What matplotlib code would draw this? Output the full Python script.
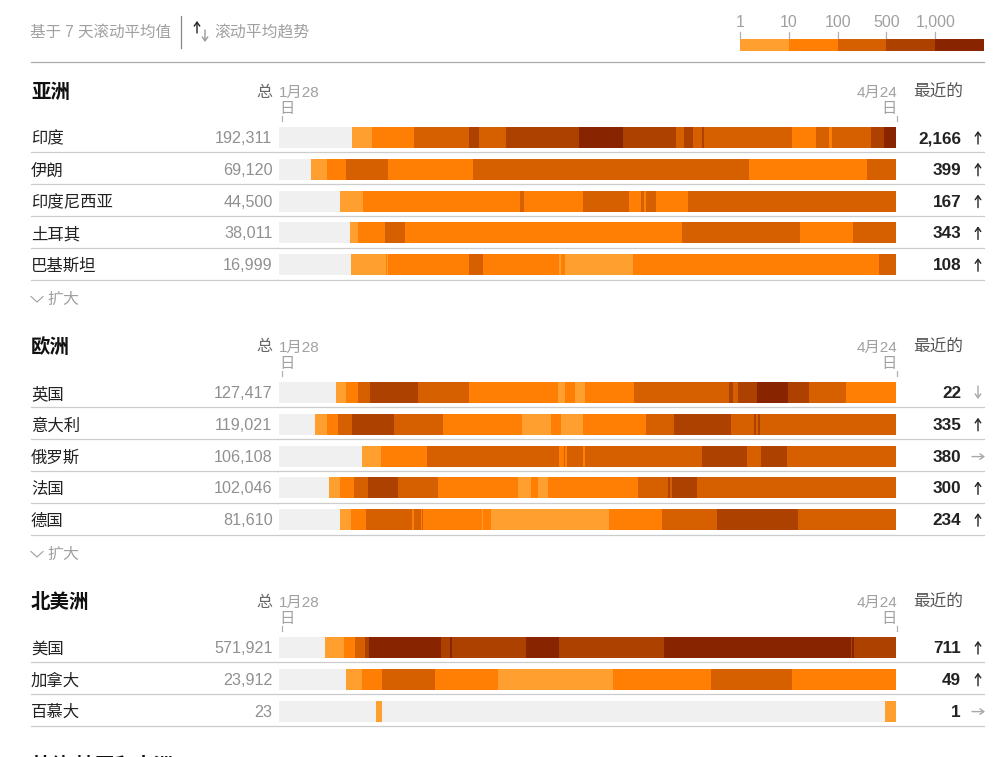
import matplotlib
matplotlib.use('Agg')
import matplotlib.pyplot as plt

plt.rcParams['font.family'] = ['Liberation Sans', 'Noto Sans CJK SC', 'DejaVu Sans']

# bin colours, 0 = no cases
colors = {0: '#f0f0f0', 1: '#ff9f30', 2: '#ff7f05', 3: '#d65f00', 4: '#ad4100', 5: '#882500'}
legend_labels = ['1', '10', '100', '500', '1,000']
legend_levels = [1, 2, 3, 4, 5]

# each country: breaks in days since Jan 28, levels of the segments between them
india_breaks = [10.4, 13.2, 19.3, 27.1, 28.5, 32.4, 42.8, 49.1, 56.6, 57.8, 59.0, 60.3, 60.6, 73.1, 76.6, 78.5, 78.9, 84.4, 86.3, 88]
india_levels = [1, 2, 3, 4, 3, 4, 5, 4, 3, 4, 3, 4, 3, 2, 3, 2, 3, 4, 5]
iran_breaks = [4.6, 6.9, 9.5, 15.6, 27.7, 67.1, 83.9, 88]
iran_levels = [1, 2, 3, 2, 3, 2, 3]
indonesia_breaks = [8.7, 12.0, 34.4, 35.0, 43.4, 49.9, 51.7, 52.1, 52.3, 53.8, 58.3, 88]
indonesia_levels = [1, 2, 3, 2, 3, 2, 3, 2, 3, 2, 3]
turkey_breaks = [10.1, 11.3, 15.1, 18.0, 57.5, 74.3, 81.8, 88]
turkey_levels = [1, 2, 3, 2, 3, 2, 3]
pakistan_breaks = [10.3, 15.3, 15.4, 15.6, 27.1, 29.1, 40.0, 40.2, 40.8, 50.0, 50.1, 50.5, 85.6, 88]
pakistan_levels = [1, 2, 1, 2, 3, 2, 1, 2, 1, 2, 1, 2, 3]

uk_breaks = [8.1, 9.6, 11.3, 13.0, 19.8, 27.1, 39.8, 40.8, 42.2, 43.6, 50.6, 64.2, 64.8, 65.4, 68.2, 72.6, 75.6, 80.9, 88]
uk_levels = [1, 2, 3, 4, 3, 2, 1, 2, 1, 2, 3, 4, 3, 4, 5, 4, 3, 2]
italy_breaks = [5.2, 6.8, 8.4, 10.4, 16.4, 23.4, 34.7, 38.8, 40.2, 43.4, 52.4, 56.3, 64.5, 67.8, 68.0, 68.3, 68.6, 88]
italy_levels = [1, 2, 3, 4, 3, 2, 1, 2, 1, 2, 3, 4, 3, 4, 3, 4, 3]
russia_breaks = [11.8, 14.5, 21.1, 39.9, 40.6, 40.8, 41.1, 43.4, 43.7, 60.4, 66.8, 68.8, 72.5, 88]
russia_levels = [1, 2, 3, 2, 3, 2, 3, 2, 3, 4, 3, 4, 3]
france_breaks = [7.2, 8.7, 10.7, 12.7, 17.0, 22.7, 34.1, 35.9, 36.9, 38.4, 51.2, 55.5, 55.8, 56.0, 59.6, 88]
france_levels = [1, 2, 3, 4, 3, 2, 1, 2, 1, 2, 3, 4, 3, 4, 3]
germany_breaks = [8.7, 10.3, 12.4, 19.0, 19.2, 20.2, 20.4, 20.5, 29.0, 29.1, 30.3, 47.1, 54.6, 62.5, 74.0, 88]
germany_levels = [1, 2, 3, 2, 3, 2, 3, 2, 1, 2, 1, 2, 3, 4, 3]

usa_breaks = [6.6, 9.3, 10.9, 12.2, 12.8, 23.1, 24.4, 24.7, 35.2, 39.9, 54.9, 81.6, 81.7, 82.0, 88]
usa_levels = [1, 2, 3, 4, 5, 4, 5, 4, 5, 4, 5, 4, 5, 4]
canada_breaks = [9.5, 11.8, 14.7, 22.3, 31.2, 47.7, 61.6, 73.2, 88]
canada_levels = [1, 2, 3, 2, 1, 2, 3, 2]
bermuda_breaks = [13.9, 14.7, 86.4, 88]
bermuda_levels = [1, 0, 1]

asia = [('印度', '192,311', '2,166', 'up', india_breaks, india_levels),
        ('伊朗', '69,120', '399', 'up', iran_breaks, iran_levels),
        ('印度尼西亚', '44,500', '167', 'up', indonesia_breaks, indonesia_levels),
        ('土耳其', '38,011', '343', 'up', turkey_breaks, turkey_levels),
        ('巴基斯坦', '16,999', '108', 'up', pakistan_breaks, pakistan_levels)]
europe = [('英国', '127,417', '22', 'down', uk_breaks, uk_levels),
          ('意大利', '119,021', '335', 'up', italy_breaks, italy_levels),
          ('俄罗斯', '106,108', '380', 'flat', russia_breaks, russia_levels),
          ('法国', '102,046', '300', 'up', france_breaks, france_levels),
          ('德国', '81,610', '234', 'up', germany_breaks, germany_levels)]
america = [('美国', '571,921', '711', 'up', usa_breaks, usa_levels),
           ('加拿大', '23,912', '49', 'up', canada_breaks, canada_levels),
           ('百慕大', '23', '1', 'flat', bermuda_breaks, bermuda_levels)]

gray = '#a0a0a0'
dark = '#222222'

fig = plt.figure(figsize=(10, 7.57), dpi=100)
# page axes in pixels for layout, bar axes in days
page = fig.add_axes([0, 0, 1, 1])
page.axis('off')
bars = fig.add_axes([0.279, 0, 0.617, 1])
bars.axis('off')
bars.patch.set_alpha(0)


def arrow(x0, y0, x1, y1, color):
    page.annotate('', xy=(x1, y1), xytext=(x0, y0),
                  arrowprops=dict(arrowstyle='->,head_length=0.28,head_width=0.2', color=color,
                                  lw=1.0, shrinkA=0, shrinkB=0))


def trend_arrow(trend, y):
    if trend == 'up':
        arrow(978, y + 6, 978, y - 7, '#222222')
    elif trend == 'down':
        arrow(978, y - 7, 978, y + 6, '#a8a8a8')
    else:
        arrow(972, y, 985, y, '#a8a8a8')


def draw_block(title, rows, top, expand):
    page.text(31, top + 1.5, title, fontsize=14, fontweight='bold', color='#111111', va='center')
    page.text(272, top + 1, '总', fontsize=11.5, color='#666666', va='center', ha='right')
    page.text(279, top + 2, '1月28', fontsize=11, color=gray, va='center')
    page.text(279, top + 18, '日', fontsize=11, color=gray, va='center')
    page.text(897, top + 2, '4月24', fontsize=11, color=gray, va='center', ha='right')
    page.text(897, top + 18, '日', fontsize=11, color=gray, va='center', ha='right')
    page.text(913, top + 1, '最近的', fontsize=12, color='#555555', va='center')
    page.plot([281.5, 281.5], [top + 25, top + 30], color='#b0b0b0', lw=0.9)
    page.plot([896.5, 896.5], [top + 25, top + 30], color='#b0b0b0', lw=0.9)
    for i, (name, total, latest, trend, breaks, levels) in enumerate(rows):
        y = top + 47 + i * 31.8
        page.text(31, y + 1, name, fontsize=11.8, color=dark, va='center')
        page.text(272.5, y + 0.5, total, fontsize=11.6, color='#909090', va='center', ha='right')
        page.text(961, y + 0.5, latest, fontsize=12.3, fontweight='bold', color=dark, va='center', ha='right')
        trend_arrow(trend, y)
        bars.barh(y - 0.5, 88, height=21, color=colors[0])
        for j, level in enumerate(levels):
            bars.barh(y - 0.5, breaks[j + 1] - breaks[j], left=breaks[j], height=21, color=colors[level])
        page.plot([31, 984], [y + 14.3, y + 14.3], color='#cccccc', lw=0.9)
    if expand:
        y = top + 208
        page.plot([31, 37, 43], [y - 2.5, y + 3, y - 2.5], color=gray, lw=0.8)
        page.text(47, y, '扩大', fontsize=11.5, color=gray, va='center')


# header
page.text(30, 32.5, '基于 7 天滚动平均值', fontsize=11.2, color=gray, va='center')
page.plot([181, 181], [16, 48], color='#888888', lw=0.9)
arrow(197, 33, 197, 21, '#222222')
arrow(205, 30, 205, 42, '#999999')
page.text(214, 32.5, '滚动平均趋势', fontsize=11.4, color=gray, va='center')
page.plot([31, 984], [62, 62], color='#aaaaaa', lw=0.9)

# legend
for k, (label, level) in enumerate(zip(legend_labels, legend_levels)):
    x = 740 + k * 48.8
    page.barh(45, 48.8, left=x, height=12, color=colors[level])
    page.plot([x, x], [32, 38], color='#b0b0b0', lw=0.9)
    page.text(x, 22.5, label, fontsize=11.5, color=gray, va='center', ha='center')

draw_block('亚洲', asia, 91, True)
draw_block('欧洲', europe, 346, True)
draw_block('北美洲', america, 601, False)
page.text(31, 766.5, '其他 地区和大洲', fontsize=14, fontweight='bold', color='#111111', va='center')

page.set_xlim(0, 1000)
page.set_ylim(757, 0)
bars.set_xlim(0, 88)
bars.set_ylim(757, 0)
fig.savefig('out.png', dpi=100)
